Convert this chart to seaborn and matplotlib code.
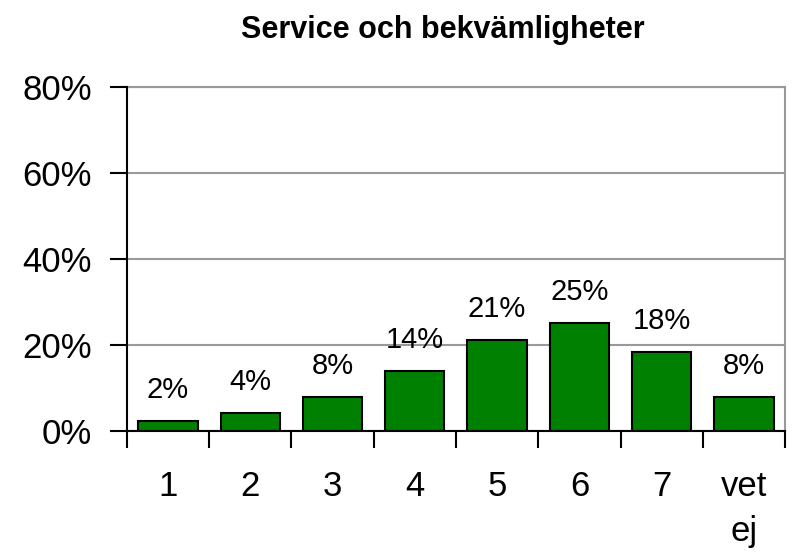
"""Bar chart: Service och bekvämligheter."""

import matplotlib
matplotlib.use("Agg")
import matplotlib.pyplot as plt
import numpy as np
import pandas as pd
import seaborn as sns
from matplotlib.ticker import FixedLocator, PercentFormatter

categories = ["1", "2", "3", "4", "5", "6", "7", "vet\nej"]
shares = [2.4, 4.2, 7.9, 14.0, 21.2, 25.1, 18.4, 7.9]
y_ticks = [0, 20, 40, 60, 80]
title = "Service och bekvämligheter"

df = pd.DataFrame({"category": categories, "share": shares})

sns.set_theme(style="white")
plt.rcParams["font.family"] = ["Liberation Sans", "DejaVu Sans"]
plt.rcParams["text.color"] = "black"

fig = plt.figure(figsize=(7.93, 5.52), dpi=100)
ax = fig.add_axes([0.160, 0.219, 0.830, 0.623])

sns.barplot(data=df, x="category", y="share", color="#008000",
            saturation=1, width=0.72, edgecolor="black", linewidth=1.5,
            zorder=3, ax=ax)

# Value labels above bars
for i, val in enumerate(shares):
    ax.text(i, val + 5.4, f"{val:.0f}%", ha="center", va="baseline",
            fontsize=21, color="black")

ax.set_ylim(0, 80)
ax.set_xlim(-0.5, len(categories) - 0.5)
ax.set_yticks(y_ticks)
ax.yaxis.set_major_formatter(PercentFormatter(decimals=0))
ax.grid(axis="y", color="#999999", linewidth=1.5, zorder=0)
ax.set_xlabel("")
ax.set_ylabel("")

# Tick marks between categories, labels at category centres
ax.xaxis.set_minor_locator(FixedLocator(np.arange(-0.5, len(categories), 1.0)))
ax.tick_params(axis="x", which="minor", length=12, width=1.5, color="black",
               direction="out", bottom=True)
ax.tick_params(axis="x", which="major", length=0, pad=28, labelsize=25,
               labelcolor="black")
ax.tick_params(axis="y", length=12, width=1.5, color="black", direction="out",
               left=True, pad=13, labelsize=25, labelcolor="black")
for lbl in ax.get_xticklabels():
    lbl.set_verticalalignment("top")
    lbl.set_linespacing(1.45)

for side in ["left", "bottom"]:
    ax.spines[side].set_color("black")
    ax.spines[side].set_linewidth(1.5)
    ax.spines[side].set_zorder(4)
for side in ["top", "right"]:
    ax.spines[side].set_color("#999999")
    ax.spines[side].set_linewidth(1.5)

fig.text(0.559, 0.945, title, ha="center", va="center", fontsize=22,
         fontweight="bold", color="black")

fig.savefig("out.png", dpi=100)
